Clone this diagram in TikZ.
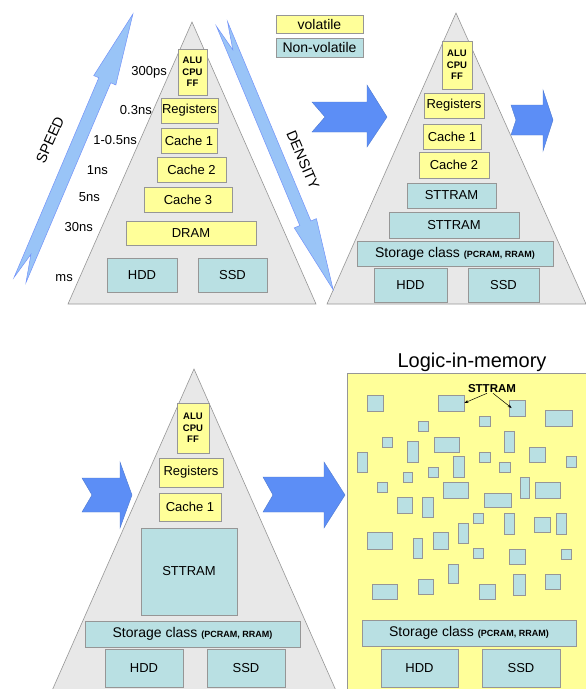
\documentclass[tikz,border=0pt]{standalone}
\usepackage{fontspec}
\setmainfont{Liberation Sans}
\usetikzlibrary{arrows.meta}
\definecolor{volyel}{RGB}{255,255,153}
\definecolor{nvteal}{RGB}{185,224,227}
\definecolor{pyrgray}{RGB}{232,232,232}
\definecolor{edgegray}{RGB}{150,150,150}
\definecolor{chevblue}{RGB}{92,142,246}
\definecolor{skyblue}{RGB}{153,196,247}

\begin{document}
\begin{tikzpicture}[x=1pt, y=-1pt,
        box/.style={draw=edgegray, line width=0.7pt, inner sep=0pt, font=\fontsize{13}{15}\selectfont},
        vol/.style={box, fill=volyel},
        nvol/.style={box, fill=nvteal},
        cell/.style={nvol},
        alu/.style={vol, align=center, font=\fontsize{9.5}{11.7}\selectfont\bfseries},
        store/.style={nvol, font=\fontsize{14}{16}\selectfont},
        lbl/.style={anchor=east, inner sep=0pt, font=\fontsize{13}{15}\selectfont},
        pyr/.style={fill=pyrgray, draw=edgegray, line width=0.6pt},
        chev/.style={fill=chevblue, draw=chevblue!85!black, line width=0.4pt},
        slim/.style={fill=skyblue, draw=skyblue!75!blue, line width=0.5pt},
        ptr/.style={-{Stealth[length=4pt,width=3pt]}, line width=0.5pt}]
    \clip (0,0) rectangle (586,689);
    \fill[white] (0,0) rectangle (586,689);

    \filldraw[pyr] (192,22) -- (316,304) -- (68,304) -- cycle;
    \filldraw[pyr] (456,13) -- (586,304) -- (327,304) -- cycle;
    \filldraw[chev] (82,478) -- (120,478) -- (120,462) -- (132,495) -- (120,528)
        -- (120,512) -- (82,512) -- (92,495) -- cycle;
    \filldraw[pyr] (194,369) -- (341,702) -- (47,702) -- cycle;

    \begin{scope}[shift={(20,280)}, rotate=67]
        \filldraw[slim] (0,6.5) -- (217,6.5) -- (217,12) -- (289,0) -- (217,-12)
            -- (217,-6.5) -- (0,-6.5) -- (28,0) -- cycle;
    \end{scope}
    \begin{scope}[shift={(222,24)}, rotate=-67.3]
        \filldraw[slim] (0,6) -- (216,6) -- (216,12) -- (288,0) -- (216,-12)
            -- (216,-6) -- (0,-6) -- (28,0) -- cycle;
    \end{scope}
    \node[rotate=66, font=\fontsize{14.5}{16}\selectfont] (speed) at (50,140) {SPEED};
    \node[rotate=-67, font=\fontsize{14.5}{16}\selectfont] (dens) at (303,160) {DENSITY};

    \filldraw[chev] (312,102) -- (367,102) -- (367,85) -- (387,117) -- (367,147)
        -- (367,132) -- (312,132) -- (325,117) -- cycle;
    \filldraw[chev] (511,105) -- (543,105) -- (543,90) -- (553,120) -- (543,151)
        -- (543,135) -- (511,135) -- (516,120) -- cycle;
    \filldraw[chev] (263,477) -- (324,477) -- (324,462) -- (345,495) -- (324,528)
        -- (324,512) -- (263,512) -- (273,495) -- cycle;

    \node[vol, minimum width=87, minimum height=18, font=\fontsize{14}{16}\selectfont] (vkey) at (319.5,24) {volatile};
    \node[nvol, minimum width=87, minimum height=19, font=\fontsize{14}{16}\selectfont] (nvkey) at (319.5,47.5) {Non-volatile};

    \node[alu, minimum width=29, minimum height=46] (alu1) at (192.5,72) {ALU\\CPU\\FF};
    \node[vol, minimum width=57, minimum height=25] (reg1) at (189.5,110.5) {Registers};
    \node[vol, minimum width=56, minimum height=25] (ca1) at (189,140.5) {Cache 1};
    \node[vol, minimum width=69, minimum height=25] (cb1) at (191.5,169.5) {Cache 2};
    \node[vol, minimum width=88, minimum height=25] (cc1) at (188,199.5) {Cache 3};
    \node[vol, minimum width=130, minimum height=24] (dram1) at (191,233) {DRAM};
    \node[nvol, minimum width=70, minimum height=34] (hdd1) at (142,275) {HDD};
    \node[nvol, minimum width=69, minimum height=34] (ssd1) at (232.5,275) {SSD};
    \node[lbl] (t300) at (167,72) {300ps};
    \node[lbl] (t03) at (152,110) {0.3ns};
    \node[lbl] (t105) at (137,140) {1-0.5ns};
    \node[lbl] (t1) at (108,170) {1ns};
    \node[lbl] (t5) at (100,197) {5ns};
    \node[lbl] (t30) at (93,227) {30ns};
    \node[lbl] (tms) at (73,278) {ms};

    \node[alu, minimum width=30, minimum height=48] (alu2) at (457,65) {ALU\\CPU\\FF};
    \node[vol, minimum width=60, minimum height=25] (reg2) at (454,105.5) {Registers};
    \node[vol, minimum width=58, minimum height=25] (ca2) at (452,136.5) {Cache 1};
    \node[vol, minimum width=70, minimum height=26] (cb2) at (454,165) {Cache 2};
    \node[nvol, minimum width=89, minimum height=25] (sta2) at (451.5,195.5) {STTRAM};
    \node[nvol, minimum width=130, minimum height=26] (stb2) at (454,225) {STTRAM};
    \node[store, minimum width=196, minimum height=25] (sc2) at (455,253.5) {Storage class {\fontsize{9}{10}\selectfont\bfseries (PCRAM, RRAM)}};
    \node[nvol, minimum width=73, minimum height=34] (hdd2) at (410.5,285) {HDD};
    \node[nvol, minimum width=71, minimum height=34] (ssd2) at (503.5,285) {SSD};

    \node[alu, minimum width=32, minimum height=50] (alu3) at (193,428) {ALU\\CPU\\FF};
    \node[vol, minimum width=64, minimum height=29] (reg3) at (191,472.5) {Registers};
    \node[vol, minimum width=62, minimum height=28] (ca3) at (190,507) {Cache 1};
    \node[nvol, minimum width=96, minimum height=87] (st3) at (189,571.5) {STTRAM};
    \node[store, minimum width=215, minimum height=26] (sc3) at (192.5,634) {Storage class {\fontsize{9}{10}\selectfont\bfseries (PCRAM, RRAM)}};
    \node[nvol, minimum width=78, minimum height=38] (hdd3) at (144,668) {HDD};
    \node[nvol, minimum width=78, minimum height=38] (ssd3) at (246,668) {SSD};

    \node[font=\fontsize{20}{24}\selectfont] (lim) at (472,362) {Logic-in-memory};
    \filldraw[fill=volyel, draw=edgegray, line width=0.7pt] (347,373) rectangle (592,700);
    \foreach \x/\y/\w/\h [count=\i] in {375/403/16/16, 451/403/26/16, 517/408/16/16,
            558.5/418/27/16, 484.5/421/11/10, 423/426/10/10, 387/442/10/10,
            446.5/444.5/25/15, 509/441.5/10/21, 412.5/451.5/11/21, 362/462/10/20,
            458.5/466.5/11/21, 484.5/457/11/10, 537/454.5/16/15, 571/461.5/10/11,
            504.5/467/11/10, 407.5/477/9/10, 433/472/10/10, 382/487/10/10,
            455.5/490/25/16, 524.5/487.5/9/21, 547.5/490/25/16, 497.5/500/27/14,
            404.5/505/15/16, 427.5/507/11/20, 478/518/10/10, 509/523.5/10/21,
            542/524.5/16/15, 561/523.5/10/21, 379.5/540.5/25/17, 463/533/10/20,
            417.5/548/9/20, 440.5/540.5/15/17, 478/553/10/10, 517/556.5/16/15,
            566/554/10/10, 453/573.5/10/19, 384.5/591.5/25/15, 425.5/586.5/15/15,
            487/591.5/16/15, 519/584.5/12/21, 552.5/581.5/15/15}
        \node[cell, minimum width=\w, minimum height=\h] (r\i) at (\x,\y) {};
    \node[inner sep=0pt, font=\fontsize{11.5}{13}\selectfont\bfseries] (sttlbl) at (492,389) {STTRAM};
    \draw[ptr] ([xshift=-5pt]sttlbl.south) -- (r2.east);
    \draw[ptr] ([xshift=1pt]sttlbl.south) -- ([xshift=3pt]r3.west);
    \node[store, minimum width=214, minimum height=26] (sc4) at (469,633) {Storage class {\fontsize{9}{10}\selectfont\bfseries (PCRAM, RRAM)}};
    \node[nvol, minimum width=77, minimum height=38] (hdd4) at (419.5,668) {HDD};
    \node[nvol, minimum width=78, minimum height=38] (ssd4) at (521,668) {SSD};
\end{tikzpicture}
\end{document}
